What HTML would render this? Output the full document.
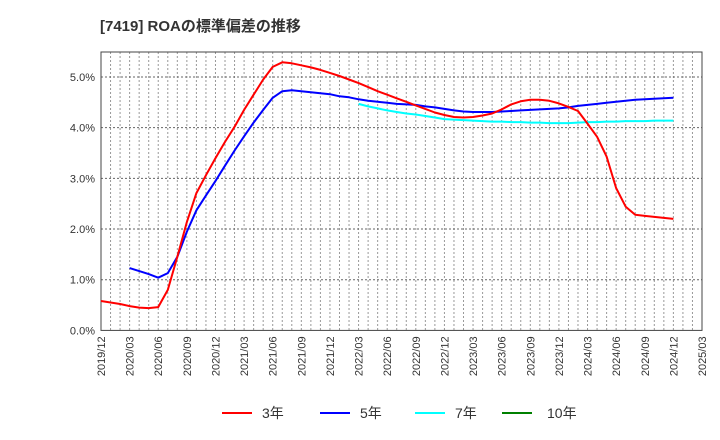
<!DOCTYPE html>
<html><head><meta charset="utf-8"><style>
body{margin:0;background:#fff;}
svg{display:block;font-family:"Liberation Sans","Noto Sans CJK JP",sans-serif;}
</style></head><body>
<svg id="chart" width="720" height="440" viewBox="0 0 720 440">
<text x="100" y="31" font-size="15" font-weight="bold" fill="#333">[7419]  ROAの標準偏差の推移</text>
<g id="grid"></g><g id="axes"></g><g id="series"></g>
<g font-size="14" fill="#333">
<line x1="222" y1="413" x2="252" y2="413" stroke="#ff0000" stroke-width="2"/>
<text x="262" y="418">3年</text>
<line x1="320" y1="413" x2="350" y2="413" stroke="#0000ff" stroke-width="2"/>
<text x="360" y="418">5年</text>
<line x1="415" y1="413" x2="445" y2="413" stroke="#00ffff" stroke-width="2"/>
<text x="455" y="418">7年</text>
<line x1="502" y1="413" x2="532" y2="413" stroke="#008000" stroke-width="2"/>
<text x="547" y="418">10年</text>
</g>
</svg>
<script>
// months indexed from 2019/12 (index 0)
const xTickLabels = ["2019/12","2020/03","2020/06","2020/09","2020/12","2021/03","2021/06","2021/09","2021/12","2022/03","2022/06","2022/09","2022/12","2023/03","2023/06","2023/09","2023/12","2024/03","2024/06","2024/09","2024/12","2025/03"];
const yTicks = [0,1,2,3,4,5];
const s3Start = 0;
const s3 = [0.58,0.55,0.52,0.48,0.45,0.44,0.46,0.80,1.45,2.14,2.71,3.06,3.40,3.72,4.02,4.35,4.65,4.95,5.20,5.29,5.27,5.23,5.19,5.14,5.08,5.02,4.95,4.88,4.80,4.72,4.65,4.58,4.51,4.44,4.37,4.30,4.25,4.21,4.20,4.21,4.24,4.28,4.36,4.46,4.52,4.55,4.55,4.53,4.48,4.41,4.33,4.08,3.82,3.43,2.81,2.44,2.28,2.26,2.24,2.22,2.20];
const s5Start = 3;
const s5 = [1.23,1.17,1.11,1.04,1.13,1.45,1.95,2.37,2.66,2.95,3.25,3.55,3.83,4.10,4.35,4.59,4.72,4.74,4.72,4.70,4.68,4.66,4.62,4.60,4.56,4.53,4.51,4.49,4.47,4.46,4.45,4.42,4.40,4.37,4.34,4.32,4.31,4.31,4.31,4.32,4.33,4.34,4.35,4.36,4.37,4.38,4.40,4.43,4.45,4.47,4.49,4.51,4.53,4.55,4.56,4.57,4.58,4.59];
const s7Start = 27;
const s7 = [4.47,4.42,4.38,4.34,4.31,4.28,4.26,4.23,4.20,4.17,4.16,4.15,4.14,4.13,4.12,4.12,4.11,4.11,4.10,4.10,4.09,4.09,4.09,4.10,4.11,4.11,4.12,4.12,4.13,4.13,4.13,4.14,4.14,4.14];

const L=101,R=702,T=52,B=330.4;
const nMonths=63;
const xs=i=>L+i*(R-L)/nMonths;
const ys=v=>B-v*(B-77)/5;
const NS="http://www.w3.org/2000/svg";
function mk(tag,attrs,parent){const e=document.createElementNS(NS,tag);for(const k in attrs)e.setAttribute(k,attrs[k]);parent.appendChild(e);return e;}
const grid=document.getElementById('grid'),axes=document.getElementById('axes'),ser=document.getElementById('series');
for(let i=1;i<nMonths;i++){
  const l=mk('line',{x1:xs(i),x2:xs(i),y1:T,y2:B,stroke:'#999','stroke-width':1,'stroke-dasharray':'2,2'},grid);
  
  
}
yTicks.forEach(v=>{
  if(v>0){const l=mk('line',{x1:L,x2:R,y1:ys(v),y2:ys(v),stroke:'#666','stroke-width':1,'stroke-dasharray':'2,2'},grid);
  
  }
  const t=mk('text',{x:L-6,y:ys(v)+4,'text-anchor':'end','font-size':11,fill:'#333'},axes);
  t.textContent=v.toFixed(1)+'%';
  
  
});
const frame=mk('rect',{x:L,y:T,width:R-L,height:B-T,fill:'none',stroke:'#444','stroke-width':1},axes);


xTickLabels.forEach((lab,k)=>{
  const x=xs(k*3);
  const t=mk('text',{x:0,y:0,'text-anchor':'end','font-size':11,fill:'#333',transform:`translate(${x+4},${B+6}) rotate(-90)`},axes);
  t.textContent=lab;
  
  
});
function line(data,start,color,name){
  const pts=data.map((v,i)=>xs(start+i).toFixed(1)+','+ys(v).toFixed(1)).join(' ');
  const p=mk('polyline',{points:pts,fill:'none',stroke:color,'stroke-width':2,'stroke-linejoin':'round'},ser);
  
  
}
line(s7,s7Start,'#00ffff','series-7y');
line(s5,s5Start,'#0000ff','series-5y');
line(s3,s3Start,'#ff0000','series-3y');
</script>
</body></html>
